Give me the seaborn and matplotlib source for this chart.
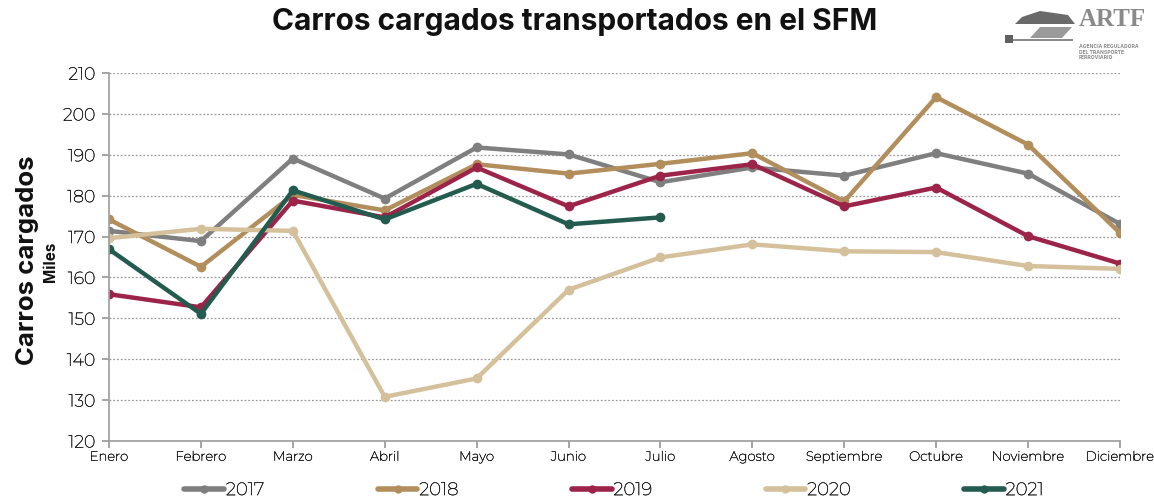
import matplotlib
matplotlib.use("Agg")
import matplotlib.pyplot as plt
import matplotlib.patheffects as pe
import matplotlib.patches as mpatches
import seaborn as sns
import pandas as pd
import numpy as np
from matplotlib import font_manager as fm
from matplotlib.lines import Line2D

months = ["Enero", "Febrero", "Marzo", "Abril", "Mayo", "Junio", "Julio",
          "Agosto", "Septiembre", "Octubre", "Noviembre", "Diciembre"]
years = ["2017", "2018", "2019", "2020", "2021"]

v2017 = [171.4, 168.9, 189.1, 179.3, 191.8, 190.1, 183.3, 186.9, 184.9, 190.4, 185.4, 173.1]
v2018 = [174.2, 162.6, 180.2, 176.4, 187.7, 185.4, 187.8, 190.4, 178.6, 204.1, 192.5, 170.9]
v2019 = [155.9, 152.7, 178.8, 174.7, 186.9, 177.4, 184.9, 187.7, 177.4, 182.0, 170.1, 163.4]
v2020 = [169.6, 171.9, 171.4, 130.8, 135.3, 157.0, 164.9, 168.1, 166.4, 166.2, 162.8, 162.1]
v2021 = [166.9, 151.1, 181.3, 174.2, 182.9, 173.0, 174.7]

colors = ["#7f7f7f", "#b38e5d", "#9d2449", "#d4c19c", "#235b4e"]

series = [v2017, v2018, v2019, v2020, v2021]
rows = []
for y, vals in zip(years, series):
    for i, v in enumerate(vals):
        rows.append({"Mes": i, "Año": y, "Valor": v})
df = pd.DataFrame(rows)

sns.set_theme(style="white")
plt.rcParams['font.family'] = ['Montserrat', 'Lato', 'DejaVu Sans']

bold_family = ["Inter", "DejaVu Sans"]
try:
    path = fm.findfont(fm.FontProperties(family="Montserrat", weight="bold"), fallback_to_default=False)
    ent = [f for f in fm.fontManager.ttflist if f.fname == path]
    if ent and (ent[0].weight if isinstance(ent[0].weight, int) else 400) >= 600:
        bold_family = ["Montserrat", "DejaVu Sans"]
except Exception:
    pass

thicken = [pe.withStroke(linewidth=0.3, foreground="#1a1a1a")]

fig = plt.figure(figsize=(11.54, 4.97), dpi=100)
ax = fig.add_axes([0.0945, 0.1127, 0.876, 0.7403])

sns.lineplot(data=df, x="Mes", y="Valor", hue="Año", palette=colors,
             marker="o", markersize=7, markeredgewidth=0, linewidth=3.2,
             ax=ax, legend=False, sort=False)

ax.set_xlim(0, 11)
ax.set_ylim(120, 210)
ax.set_yticks(np.arange(120, 211, 10))
ax.set_xticks(range(12))
ax.set_xticklabels(months, fontsize=9.5, color="#1a1a1a")
ax.tick_params(axis="y", labelsize=12.5, labelcolor="#1a1a1a", color="#999999",
               length=5, pad=5, left=True, direction="out")
ax.tick_params(axis="x", length=5, color="#999999", pad=2, bottom=True, direction="out")
for lab in ax.get_xticklabels() + ax.get_yticklabels():
    lab.set_path_effects(thicken)
ax.yaxis.grid(True, linestyle=(0, (1.5, 1.5)), color="#9a9a9a", linewidth=0.9)
ax.xaxis.grid(False)
for s in ["top", "right"]:
    ax.spines[s].set_visible(False)
ax.spines["left"].set_color("#a0a0a0")
ax.spines["bottom"].set_color("#a0a0a0")
ax.set_xlabel("")
ax.set_ylabel("")

fig.text(0.498, 0.955, "Carros cargados transportados en el SFM", ha="center", va="center",
         fontsize=21.5, fontweight="bold", color="#111111", family=bold_family)
fig.text(0.024, 0.477, "Carros cargados", rotation=90, ha="center", va="center",
         fontsize=18.5, fontweight="bold", color="#111111", family=bold_family)
fig.text(0.044, 0.473, "Miles", rotation=90, ha="center", va="center",
         fontsize=11, fontweight="bold", color="#111111", family=bold_family)

# Logo (approximation)
W, H = 1154.0, 497.0
def fx(px):
    return px / W
def fy(py):
    return 1 - py / H
fig.patches.append(mpatches.Polygon([(fx(1015), fy(24)), (fx(1075), fy(24)), (fx(1068), fy(15)),
                                     (fx(1040), fy(11)), (fx(1022), fy(17))],
                                    closed=True, transform=fig.transFigure,
                                    facecolor="#6a6a6a", edgecolor="none"))
fig.patches.append(mpatches.Polygon([(fx(1030), fy(38)), (fx(1062), fy(38)), (fx(1072), fy(27)),
                                     (fx(1040), fy(27))],
                                    closed=True, transform=fig.transFigure,
                                    facecolor="#9a9a9a", edgecolor="none"))
fig.patches.append(mpatches.Rectangle((fx(1005), fy(43)), fx(8), 8 / H, transform=fig.transFigure,
                                      facecolor="#606060", edgecolor="none"))
fig.patches.append(mpatches.Rectangle((fx(1013), fy(41)), fx(60), 2 / H, transform=fig.transFigure,
                                      facecolor="#8a8a8a", edgecolor="none"))
fig.text(0.935, 0.96, "ARTF", ha="left", va="center", fontsize=18, fontweight="bold",
         color="#8a8a8a", family=["Liberation Serif", "DejaVu Serif"])
fig.text(0.935, 0.895, "AGENCIA REGULADORA\nDEL TRANSPORTE\nFERROVIARIO", ha="left", va="center",
         fontsize=3.6, color="#8a8a8a", linespacing=1.1, family=bold_family, fontweight="bold")

handles = [Line2D([0], [0], color=c, linewidth=4, marker="o", markersize=6, markeredgewidth=0)
           for c in colors]
leg = fig.legend(handles, years, loc="lower center", bbox_to_anchor=(0.532, -0.035), ncol=5,
                 frameon=False, fontsize=13, handlelength=2.2, handletextpad=0.1,
                 columnspacing=6.3)
for t in leg.get_texts():
    t.set_color("#1a1a1a")
    t.set_path_effects(thicken)

fig.savefig("out.png", dpi=100)
